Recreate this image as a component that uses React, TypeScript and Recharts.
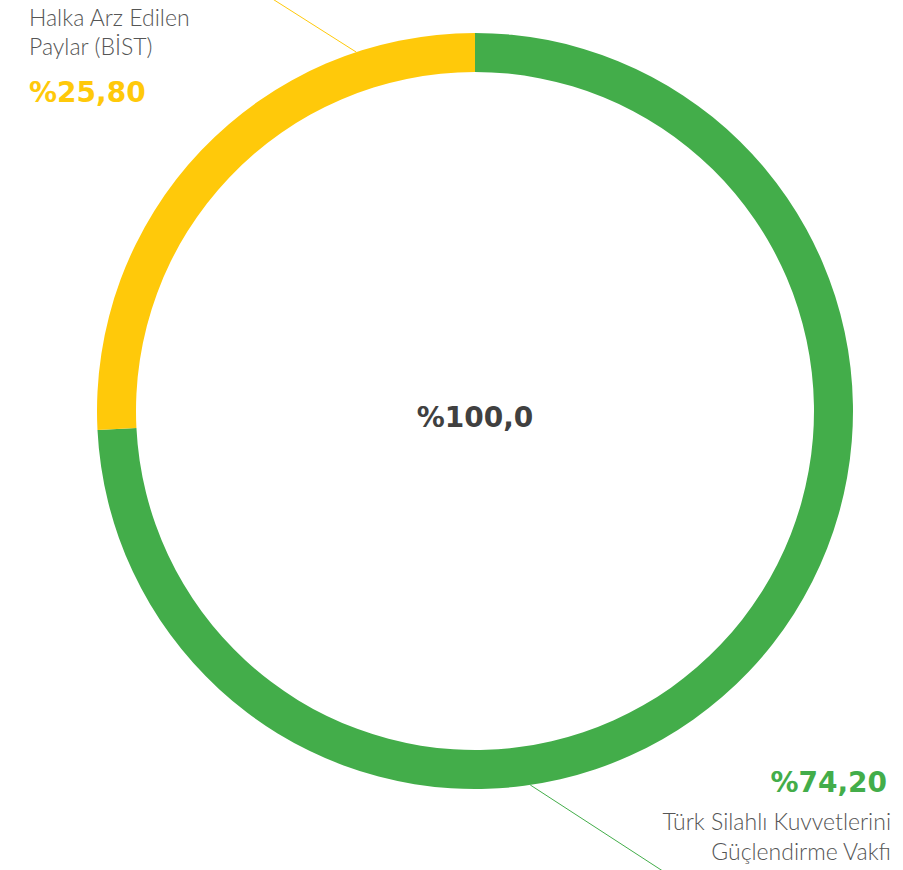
import React from "react";
import { PieChart, Pie, Cell } from "recharts";

const categories = ["Türk Silahlı Kuvvetlerini Güçlendirme Vakfı", "Halka Arz Edilen Paylar (BİST)"];
const nameLines = [
  ["Türk Silahlı Kuvvetlerini", "Güçlendirme Vakfı"],
  ["Halka Arz Edilen", "Paylar (BİST)"],
];
const shares = [74.2, 25.8];
const valueLabels = ["%74,20", "%25,80"];
const colors = ["#43AD4A", "#FFC90A"];
const totalLabel = "%100,0";

const data = categories.map((name, i) => ({ name, value: shares[i] }));

const FONT = "Lato, 'Open Sans', sans-serif";
const BOLD_FONT = "'DejaVu Sans', sans-serif";

// label layout, relative to pie centre
const labelLayout = [
  {
    anchorAngle: -81.6,
    lineDir: 33,
    lineLen: 180,
    anchor: "end",
    valueX: 412,
    valueY: 381,
    nameX: 416,
    nameY: [419, 449],
  },
  {
    anchorAngle: 108.3,
    lineDir: 180 + 32.4,
    lineLen: 180,
    anchor: "start",
    valueX: -446,
    valueY: -309,
    nameX: -446,
    nameY: [-385, -356],
  },
];

const RAD = Math.PI / 180;

const renderLabel = (props: any) => {
  const { cx, cy, outerRadius, index } = props;
  const l = labelLayout[index];
  const x1 = cx + outerRadius * Math.cos(l.anchorAngle * RAD);
  const y1 = cy - outerRadius * Math.sin(l.anchorAngle * RAD);
  const x2 = x1 + l.lineLen * Math.cos(l.lineDir * RAD);
  const y2 = y1 + l.lineLen * Math.sin(l.lineDir * RAD);
  return (
    <g key={`lbl-${index}`}>
      <line x1={x1} y1={y1} x2={x2} y2={y2} stroke={colors[index]} strokeWidth={1} />
      {nameLines[index].map((t, j) => (
        <text
          key={j}
          x={cx + l.nameX}
          y={cy + l.nameY[j]}
          textAnchor={l.anchor}
          fill="#555"
          fontSize={23}
          fontWeight={300}
          fontFamily={FONT}
        >
          {t}
        </text>
      ))}
      <text
        x={cx + l.valueX}
        y={cy + l.valueY}
        textAnchor={l.anchor}
        fill={colors[index]}
        fontSize={28}
        fontWeight={700}
        fontFamily={BOLD_FONT}
      >
        {valueLabels[index]}
      </text>
      {index === 0 && (
        <text
          x={cx}
          y={cy + 16}
          textAnchor="middle"
          fill="#404040"
          fontSize={28}
          fontWeight={700}
          fontFamily={BOLD_FONT}
        >
          {totalLabel}
        </text>
      )}
    </g>
  );
};

export default function App() {
  return (
    <div style={{ position: "absolute", left: 0, top: 0, width: 903, height: 870, overflow: "hidden", background: "#fff" }}>
      <PieChart width={903} height={870} margin={{ top: 0, right: 0, bottom: 0, left: 0 }}>
        <Pie
          data={data}
          dataKey="value"
          nameKey="name"
          cx={475}
          cy={411}
          innerRadius={339}
          outerRadius={378}
          startAngle={90}
          endAngle={-270}
          stroke="none"
          label={renderLabel}
          labelLine={false}
          isAnimationActive={false}
        >
          {data.map((d, i) => (
            <Cell key={`cell-${i}`} fill={colors[i]} />
          ))}
        </Pie>
      </PieChart>
    </div>
  );
}
